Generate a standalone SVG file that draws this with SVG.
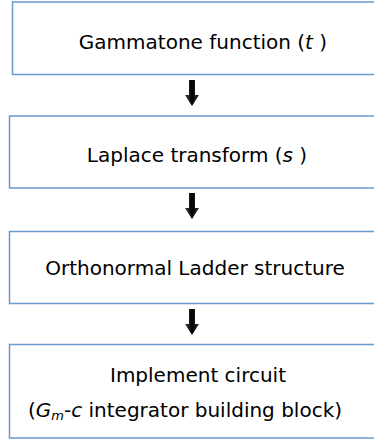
<svg xmlns="http://www.w3.org/2000/svg" width="374" height="439" viewBox="0 0 374 439">
<style>
.box{fill:#fff;stroke:#6a98d0;stroke-width:1.5}
.t{font-family:"DejaVu Sans",Verdana,sans-serif;font-size:20px;fill:#000;text-anchor:middle}
.i{font-style:italic}
</style>
<defs>
<linearGradient id="ag" x1="0" x2="1" y1="0" y2="0">
<stop offset="0" stop-color="#444"/><stop offset="0.5" stop-color="#000"/><stop offset="1" stop-color="#333"/>
</linearGradient>
<path id="arrow" d="M-3,0 H3 V15 H7 L0,26 L-7,15 H-3 Z"/>
</defs>
<g id="n1"><rect class="box" x="12.5" y="2" width="370" height="72.5"/>
<text class="t" x="203" y="49">Gammatone function (<tspan class="i">t</tspan> )</text></g>
<g id="n2"><rect class="box" x="9.5" y="116" width="370" height="72"/>
<text class="t" x="197" y="162">Laplace transform  (<tspan class="i">s</tspan> )</text></g>
<g id="n3"><rect class="box" x="9.5" y="231.5" width="370" height="72"/>
<text class="t" x="195" y="275">Orthonormal Ladder structure</text></g>
<g id="n4"><rect class="box" x="9.5" y="344.5" width="370" height="93.5"/>
<text class="t" x="198" y="382">Implement circuit</text>
<text class="t" x="185" y="417">(<tspan class="i">G</tspan><tspan class="i" font-size="13" dy="3">m</tspan><tspan dy="-3">-</tspan><tspan class="i">c</tspan> integrator building block)</text></g>
<g id="connectors" fill="url(#ag)">
<use href="#arrow" x="192" y="80"/>
<use href="#arrow" x="192" y="193"/>
<use href="#arrow" x="192" y="309"/>
</g>
</svg>
